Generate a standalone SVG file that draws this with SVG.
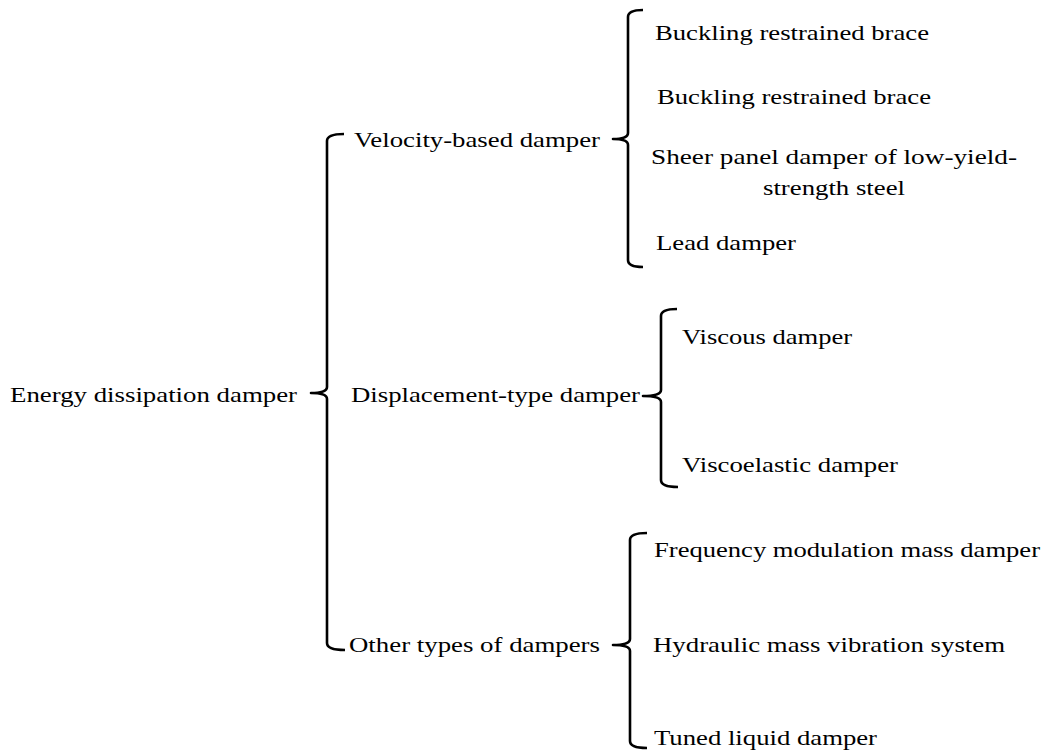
<svg xmlns="http://www.w3.org/2000/svg" width="1048" height="751" viewBox="0 0 1048 751">
<style>
  text { font-family: "Liberation Serif", "Times New Roman", serif; font-size: 21.5px; fill: #000; }
  .br { fill: none; stroke: #000; stroke-width: 2.6; stroke-linejoin: round; stroke-linecap: butt; }
</style>
<rect width="1048" height="751" fill="#fff"/>
<g id="connectors">
  <path class="br" d="M344 134 Q327 134 327 141 L327 387 Q327 393 311 393 Q327 393 327 399 L327 643 Q327 650 345 650"/>
  <path class="br" d="M643 10 Q628 10 628 17 L628 133 Q628 139 613 139 Q628 139 628 145 L628 260 Q628 267 643 267"/>
  <path class="br" d="M677 309 Q661 309 661 316 L661 390 Q661 396 643 396 Q661 396 661 402 L661 480 Q661 487 678 487"/>
  <path class="br" d="M647 533 Q630 533 630 540 L630 639 Q630 645 613 645 Q630 645 630 651 L630 741 Q630 748 647 748"/>
</g>
<g id="n-root"><text x="10" y="402" textLength="287" lengthAdjust="spacingAndGlyphs">Energy dissipation damper</text></g>
<g id="n-velocity"><text x="354" y="147" textLength="246" lengthAdjust="spacingAndGlyphs">Velocity-based damper</text></g>
<g id="n-displacement"><text x="351" y="402" textLength="289" lengthAdjust="spacingAndGlyphs">Displacement-type damper</text></g>
<g id="n-other"><text x="349" y="652" textLength="251" lengthAdjust="spacingAndGlyphs">Other types of dampers</text></g>
<g id="n-brb1"><text x="655" y="40" textLength="274" lengthAdjust="spacingAndGlyphs">Buckling restrained brace</text></g>
<g id="n-brb2"><text x="657" y="104" textLength="274" lengthAdjust="spacingAndGlyphs">Buckling restrained brace</text></g>
<g id="n-sheer"><text x="651" y="164" textLength="366" lengthAdjust="spacingAndGlyphs">Sheer panel damper of low-yield-</text><text x="763" y="195" textLength="142" lengthAdjust="spacingAndGlyphs">strength steel</text></g>
<g id="n-lead"><text x="656" y="250" textLength="140" lengthAdjust="spacingAndGlyphs">Lead damper</text></g>
<g id="n-viscous"><text x="682" y="344" textLength="170" lengthAdjust="spacingAndGlyphs">Viscous damper</text></g>
<g id="n-viscoelastic"><text x="682" y="472" textLength="216" lengthAdjust="spacingAndGlyphs">Viscoelastic damper</text></g>
<g id="n-freq"><text x="654" y="557" textLength="386" lengthAdjust="spacingAndGlyphs">Frequency modulation mass damper</text></g>
<g id="n-hydraulic"><text x="653" y="652" textLength="352" lengthAdjust="spacingAndGlyphs">Hydraulic mass vibration system</text></g>
<g id="n-tuned"><text x="654" y="745" textLength="223" lengthAdjust="spacingAndGlyphs">Tuned liquid damper</text></g>
</svg>
